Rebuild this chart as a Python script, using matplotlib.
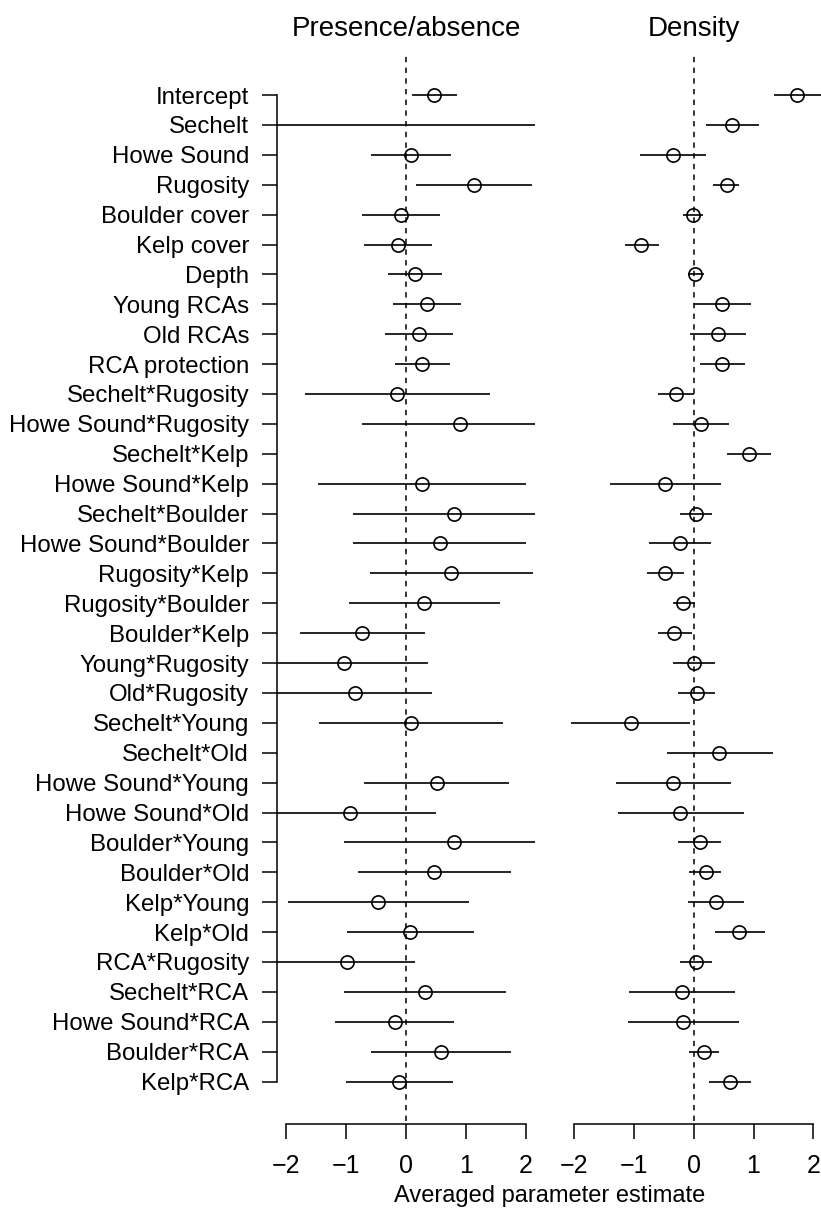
import numpy as np
import matplotlib
matplotlib.use("Agg")
import matplotlib.pyplot as plt

plt.rcParams["font.family"] = ["Liberation Sans", "DejaVu Sans"]

terms = [
    "Intercept", "Sechelt", "Howe Sound", "Rugosity", "Boulder cover",
    "Kelp cover", "Depth", "Young RCAs", "Old RCAs", "RCA protection",
    "Sechelt*Rugosity", "Howe Sound*Rugosity", "Sechelt*Kelp",
    "Howe Sound*Kelp", "Sechelt*Boulder", "Howe Sound*Boulder",
    "Rugosity*Kelp", "Rugosity*Boulder", "Boulder*Kelp", "Young*Rugosity",
    "Old*Rugosity", "Sechelt*Young", "Sechelt*Old", "Howe Sound*Young",
    "Howe Sound*Old", "Boulder*Young", "Boulder*Old", "Kelp*Young",
    "Kelp*Old", "RCA*Rugosity", "Sechelt*RCA", "Howe Sound*RCA",
    "Boulder*RCA", "Kelp*RCA",
]

nan = np.nan
# presence/absence model (values beyond +-2.16 run off the panel)
pa_est = [0.46, -3.0, 0.08, 1.13, -0.08, -0.13, 0.15, 0.35, 0.22, 0.27,
          -0.15, 0.90, nan, 0.27, 0.81, 0.57, 0.75, 0.30, -0.74, -1.04,
          -0.86, 0.08, nan, 0.51, -0.94, 0.80, 0.47, -0.47, 0.07, -0.99,
          0.31, -0.19, 0.58, -0.11]
pa_lo = [0.10, -8.0, -0.59, 0.17, -0.73, -0.70, -0.30, -0.22, -0.35, -0.19,
         -1.69, -0.73, nan, -1.47, -0.89, -0.88, -0.60, -0.96, -1.77, -2.5,
         -2.3, -1.46, nan, -0.70, -2.4, -1.04, -0.80, -1.97, -0.99, -2.3,
         -1.04, -1.19, -0.59, -1.01]
pa_hi = [0.85, 4.0, 0.76, 2.10, 0.57, 0.44, 0.60, 0.92, 0.78, 0.74,
         1.41, 2.4, nan, 2.01, 2.5, 2.01, 2.12, 1.57, 0.31, 0.36,
         0.44, 1.62, nan, 1.72, 0.50, 2.6, 1.75, 1.05, 1.13, 0.15,
         1.67, 0.81, 1.76, 0.79]

# density model
de_est = [1.72, 0.64, -0.34, 0.55, -0.01, -0.87, 0.03, 0.47, 0.41, 0.47,
          -0.29, 0.12, 0.92, -0.47, 0.04, -0.23, -0.47, -0.17, -0.32, 0.00,
          0.05, -1.05, 0.43, -0.34, -0.22, 0.10, 0.20, 0.37, 0.76, 0.04,
          -0.19, -0.17, 0.17, 0.60]
de_lo = [1.34, 0.20, -0.89, 0.33, -0.17, -1.15, -0.09, 0.00, -0.06, 0.10,
         -0.59, -0.35, 0.56, -1.40, -0.22, -0.75, -0.78, -0.35, -0.59, -0.34,
         -0.26, -2.05, -0.45, -1.29, -1.26, -0.26, -0.07, -0.09, 0.36, -0.22,
         -1.07, -1.09, -0.07, 0.25]
de_hi = [2.15, 1.10, 0.21, 0.76, 0.16, -0.58, 0.17, 0.95, 0.87, 0.85,
         0.00, 0.59, 1.29, 0.46, 0.30, 0.29, -0.16, 0.02, -0.03, 0.36,
         0.35, -0.06, 1.32, 0.63, 0.84, 0.46, 0.46, 0.84, 1.19, 0.31,
         0.69, 0.76, 0.42, 0.95]

panel_titles = ["Presence/absence", "Density"]
x_ticks = [-2, -1, 0, 1, 2]
x_label = "Averaged parameter estimate"

W, H = 821, 1213
fig = plt.figure(figsize=(W / 100, H / 100), dpi=100)

ax_bottom = (H - 1121) / H
ax_height = (1121 - 55.6) / H
ax_left = fig.add_axes([276.8 / W, ax_bottom, 258.4 / W, ax_height])
ax_right = fig.add_axes([564.2 / W, ax_bottom, 258.8 / W, ax_height])

y = np.arange(len(terms))
n = len(terms)

for ax, est, lo, hi in [(ax_left, pa_est, pa_lo, pa_hi),
                        (ax_right, de_est, de_lo, de_hi)]:
    ax.axvline(0, color="black", lw=1.1, ls=(0, (3.5, 3.5)), zorder=1)
    ax.hlines(y, lo, hi, color="black", lw=1.2, zorder=2)
    ax.plot(est, y, "o", mfc="none", mec="black", ms=9.5, mew=1.2, zorder=3)
    ax.set_xlim(-2.16, 2.16)
    ax.set_ylim(n - 1 + 1.32, -1.32)
    for s in ["top", "right"]:
        ax.spines[s].set_visible(False)
    ax.spines["bottom"].set_bounds(-2, 2)
    ax.spines["bottom"].set_position(("outward", 2.5))
    ax.spines["bottom"].set_linewidth(1.1)
    ax.set_xticks(x_ticks)
    ax.set_xticklabels([f"{t}".replace("-", "\u2212") for t in x_ticks])
    ax.tick_params(axis="x", direction="out", length=11, width=1.1,
                   labelsize=18, pad=10)

ax_left.spines["left"].set_bounds(0, n - 1)
ax_left.spines["left"].set_linewidth(1.1)
ax_left.set_yticks(y)
ax_left.set_yticklabels(terms)
ax_left.tick_params(axis="y", direction="out", length=11, width=1.1,
                    labelsize=17.3, pad=9)

ax_right.spines["left"].set_visible(False)
ax_right.set_yticks([])

fig.text(406 / W, 1 - 29 / H, panel_titles[0], ha="center", va="center",
         fontsize=20)
fig.text(694 / W, 1 - 29 / H, panel_titles[1], ha="center", va="center",
         fontsize=20)
fig.text(550 / W, 1 - 1196 / H, x_label, ha="center", va="center",
         fontsize=17)

fig.savefig("out.png", dpi=100)
